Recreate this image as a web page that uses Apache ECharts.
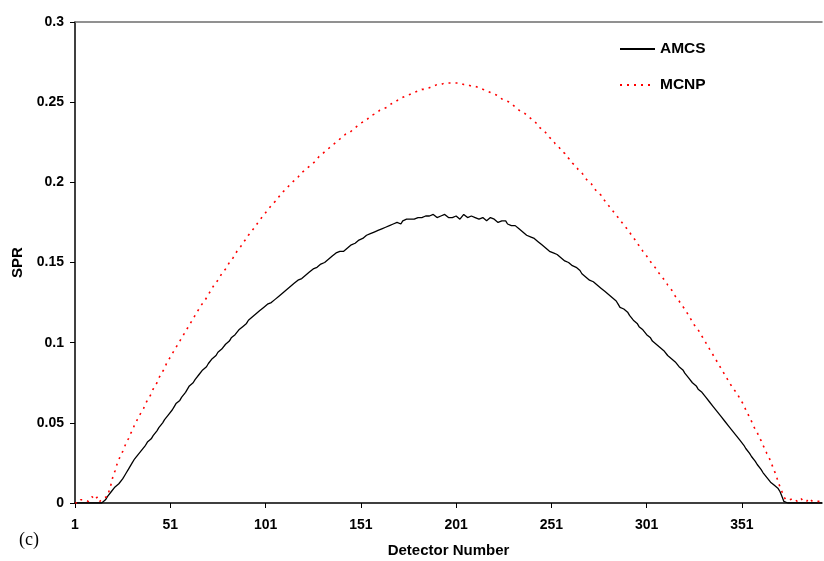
<!DOCTYPE html>
<html>
<head>
<meta charset="utf-8">
<script src="https://cdn.jsdelivr.net/npm/echarts@6/dist/echarts.min.js"></script>
<style>
  html, body { margin: 0; padding: 0; background: #ffffff; }
  #chart { width: 824px; height: 561px; }
</style>
</head>
<body>
<div id="chart"></div>
<script>
// Scatter-to-primary ratio per detector channel
const detectorCount = 393;
const detectors = Array.from({ length: detectorCount }, (_, i) => String(i + 1));

const seriesNames = ['AMCS', 'MCNP'];

const amcs = [
  0,0,0,0,0,0,0,0,0,0,
  0,0,0,0,0,0,0.002,0.004,0.005,0.007,
  0.008,0.010,0.011,0.012,0.013,0.015,0.017,0.019,0.021,0.023,
  0.025,0.027,0.028,0.030,0.031,0.033,0.034,0.036,0.038,0.039,
  0.040,0.042,0.043,0.045,0.047,0.048,0.050,0.052,0.053,0.055,
  0.056,0.058,0.060,0.062,0.063,0.064,0.066,0.067,0.069,0.071,
  0.073,0.074,0.075,0.077,0.078,0.080,0.081,0.083,0.084,0.085,
  0.087,0.088,0.090,0.091,0.092,0.094,0.095,0.096,0.097,0.099,
  0.100,0.101,0.103,0.104,0.105,0.106,0.108,0.109,0.110,0.111,
  0.112,0.114,0.115,0.116,0.117,0.118,0.119,0.120,0.121,0.122,
  0.123,0.124,0.124,0.125,0.126,0.127,0.128,0.129,0.130,0.131,
  0.132,0.133,0.134,0.135,0.136,0.137,0.138,0.139,0.139,0.140,
  0.141,0.142,0.143,0.144,0.145,0.146,0.146,0.147,0.148,0.149,
  0.150,0.150,0.151,0.152,0.153,0.154,0.155,0.156,0.157,0.157,
  0.156,0.157,0.158,0.159,0.160,0.161,0.162,0.162,0.163,0.164,
  0.164,0.165,0.166,0.167,0.167,0.168,0.168,0.169,0.170,0.170,
  0.171,0.171,0.172,0.172,0.173,0.173,0.172,0.174,0.174,0.175,
  0.175,0.174,0.176,0.176,0.177,0.176,0.177,0.178,0.177,0.178,
  0.178,0.177,0.178,0.179,0.179,0.178,0.179,0.180,0.180,0.179,
  0.178,0.178,0.179,0.180,0.180,0.179,0.178,0.177,0.178,0.179,
  0.179,0.178,0.177,0.178,0.180,0.179,0.178,0.177,0.179,0.180,
  0.178,0.177,0.177,0.178,0.178,0.177,0.176,0.177,0.178,0.178,
  0.177,0.176,0.175,0.175,0.176,0.177,0.176,0.174,0.173,0.173,
  0.174,0.173,0.172,0.171,0.170,0.169,0.168,0.167,0.167,0.166,
  0.166,0.165,0.164,0.163,0.162,0.161,0.160,0.159,0.158,0.157,
  0.156,0.156,0.155,0.155,0.154,0.153,0.152,0.151,0.150,0.150,
  0.149,0.148,0.147,0.147,0.146,0.145,0.143,0.142,0.141,0.140,
  0.139,0.139,0.138,0.137,0.136,0.135,0.134,0.133,0.132,0.131,
  0.130,0.129,0.128,0.127,0.126,0.124,0.122,0.121,0.121,0.120,
  0.119,0.117,0.116,0.114,0.113,0.112,0.110,0.109,0.108,0.107,
  0.105,0.104,0.103,0.101,0.100,0.099,0.098,0.097,0.096,0.095,
  0.094,0.092,0.091,0.090,0.089,0.088,0.087,0.085,0.084,0.083,
  0.081,0.080,0.078,0.077,0.075,0.074,0.073,0.071,0.070,0.069,
  0.068,0.066,0.065,0.063,0.062,0.060,0.059,0.057,0.056,0.054,
  0.053,0.051,0.050,0.048,0.047,0.045,0.044,0.042,0.041,0.039,
  0.038,0.036,0.034,0.033,0.031,0.029,0.028,0.026,0.024,0.023,
  0.021,0.019,0.018,0.016,0.015,0.013,0.012,0.011,0.010,0.009,
  0.007,0.004,0.001,0,0,0,0,0,0,0,
  0,0,0,0,0,0,0,0,0,0,
  0,0,0
];

const mcnp = [
  0.000,0.001,0.000,0.002,0.001,0.002,0.003,0.001,0.002,0.004,
  0.002,0.003,0.004,0.001,0.002,0.003,0.002,0.004,0.008,0.012,
  0.017,0.020,0.024,0.027,0.030,0.032,0.035,0.038,0.040,0.043,
  0.045,0.048,0.050,0.053,0.055,0.057,0.059,0.062,0.064,0.066,
  0.068,0.071,0.073,0.075,0.078,0.080,0.082,0.084,0.087,0.089,
  0.091,0.093,0.095,0.097,0.099,0.101,0.103,0.105,0.107,0.109,
  0.111,0.113,0.115,0.117,0.119,0.121,0.123,0.124,0.126,0.128,
  0.130,0.132,0.134,0.136,0.137,0.139,0.141,0.143,0.144,0.146,
  0.148,0.150,0.151,0.153,0.155,0.157,0.158,0.160,0.162,0.163,
  0.165,0.167,0.168,0.170,0.171,0.173,0.175,0.176,0.178,0.179,
  0.181,0.182,0.184,0.185,0.187,0.188,0.189,0.191,0.192,0.194,
  0.195,0.196,0.197,0.199,0.200,0.201,0.202,0.203,0.205,0.206,
  0.207,0.208,0.209,0.210,0.211,0.212,0.213,0.214,0.216,0.217,
  0.218,0.219,0.220,0.221,0.222,0.223,0.224,0.225,0.226,0.227,
  0.228,0.229,0.230,0.231,0.231,0.232,0.233,0.234,0.235,0.236,
  0.237,0.238,0.238,0.239,0.240,0.241,0.242,0.242,0.243,0.244,
  0.245,0.245,0.246,0.247,0.247,0.248,0.249,0.250,0.250,0.251,
  0.252,0.252,0.253,0.253,0.254,0.254,0.255,0.255,0.256,0.256,
  0.257,0.257,0.258,0.258,0.258,0.259,0.259,0.260,0.260,0.260,
  0.261,0.261,0.261,0.261,0.262,0.262,0.262,0.262,0.262,0.262,
  0.262,0.262,0.262,0.261,0.261,0.261,0.261,0.261,0.260,0.260,
  0.260,0.259,0.259,0.258,0.258,0.258,0.257,0.257,0.256,0.256,
  0.255,0.255,0.254,0.253,0.252,0.252,0.251,0.250,0.250,0.249,
  0.248,0.247,0.246,0.245,0.244,0.244,0.243,0.242,0.241,0.240,
  0.239,0.238,0.237,0.235,0.234,0.233,0.232,0.231,0.230,0.228,
  0.227,0.226,0.224,0.223,0.222,0.220,0.219,0.218,0.216,0.215,
  0.214,0.212,0.211,0.210,0.208,0.207,0.206,0.204,0.203,0.201,
  0.200,0.199,0.197,0.196,0.194,0.193,0.192,0.190,0.189,0.187,
  0.186,0.184,0.183,0.181,0.180,0.178,0.177,0.175,0.174,0.172,
  0.171,0.169,0.167,0.166,0.164,0.162,0.161,0.159,0.157,0.156,
  0.154,0.152,0.151,0.149,0.148,0.146,0.144,0.143,0.141,0.140,
  0.138,0.136,0.135,0.133,0.131,0.129,0.128,0.126,0.124,0.123,
  0.121,0.119,0.117,0.115,0.113,0.111,0.110,0.108,0.106,0.104,
  0.102,0.100,0.098,0.096,0.094,0.092,0.090,0.088,0.086,0.084,
  0.082,0.080,0.078,0.076,0.074,0.072,0.071,0.069,0.067,0.065,
  0.063,0.061,0.058,0.056,0.053,0.051,0.048,0.046,0.044,0.041,
  0.039,0.036,0.034,0.031,0.029,0.026,0.023,0.020,0.017,0.013,
  0.010,0.007,0.004,0.002,0.001,0.002,0.001,0.003,0.002,0.001,
  0.002,0.003,0.001,0.002,0.001,0.003,0.002,0.001,0.002,0.001,
  0.002,0.001,0.001
];

const yTicks = { min: 0, max: 0.3, step: 0.05 };

const chart = echarts.init(document.getElementById('chart'), null, { renderer: 'canvas' });

const boldText = { fontFamily: 'Liberation Sans, Arial, sans-serif', fontWeight: 'bold', color: '#000' };

chart.setOption({
  animation: false,
  backgroundColor: '#ffffff',
  grid: { left: 75, right: 2, top: 22, bottom: 58, containLabel: false, outerBoundsMode: 'none' },
  legend: {
    orient: 'vertical',
    left: 619,
    top: 41,
    padding: 0,
    itemWidth: 35,
    itemHeight: 14,
    itemGap: 20,
    itemStyle: { opacity: 0 },
    textStyle: Object.assign({ fontSize: 15.5 }, boldText),
    data: seriesNames
  },
  xAxis: [
    {
      type: 'category',
      data: detectors,
      boundaryGap: false,
      name: 'Detector Number',
      nameLocation: 'middle',
      nameGap: 40,
      nameTextStyle: Object.assign({ fontSize: 15 }, boldText),
      axisLine: { lineStyle: { color: '#000', width: 1.5 } },
      axisTick: { show: true, interval: 49, length: 5, lineStyle: { color: '#000', width: 1 } },
      axisLabel: Object.assign({ interval: 49, margin: 15, fontSize: 14 }, boldText),
      splitLine: { show: false }
    },
    {
      type: 'category',
      data: detectors,
      boundaryGap: false,
      position: 'top',
      axisLine: { lineStyle: { color: '#6e6e6e', width: 1.5 } },
      axisTick: { show: false },
      axisLabel: { show: false },
      splitLine: { show: false }
    }
  ],
  yAxis: {
    type: 'value',
    min: yTicks.min,
    max: yTicks.max,
    interval: yTicks.step,
    name: 'SPR',
    nameLocation: 'middle',
    nameGap: 48,
    nameTextStyle: Object.assign({ fontSize: 15 }, boldText),
    axisLine: { show: true, lineStyle: { color: '#000', width: 1.5 } },
    axisTick: { show: true, length: 5, lineStyle: { color: '#000', width: 1 } },
    axisLabel: Object.assign({ margin: 11, fontSize: 14 }, boldText),
    splitLine: { show: false }
  },
  graphic: [
    {
      type: 'text',
      left: 19,
      top: 531,
      style: { text: '(c)', fontFamily: 'Liberation Serif, Times New Roman, serif', fontSize: 18, fill: '#000' }
    }
  ],
  series: [
    {
      name: seriesNames[0],
      type: 'line',
      data: amcs,
      symbol: 'none',
      smooth: false,
      lineStyle: { color: '#000000', width: 1.3 },
      itemStyle: { color: '#000000' }
    },
    {
      name: seriesNames[1],
      type: 'line',
      data: mcnp,
      symbol: 'none',
      smooth: false,
      lineStyle: { color: '#ff0000', width: 1.6, type: [2, 5] },
      itemStyle: { color: '#ff0000' }
    }
  ]
});
</script>
</body>
</html>
